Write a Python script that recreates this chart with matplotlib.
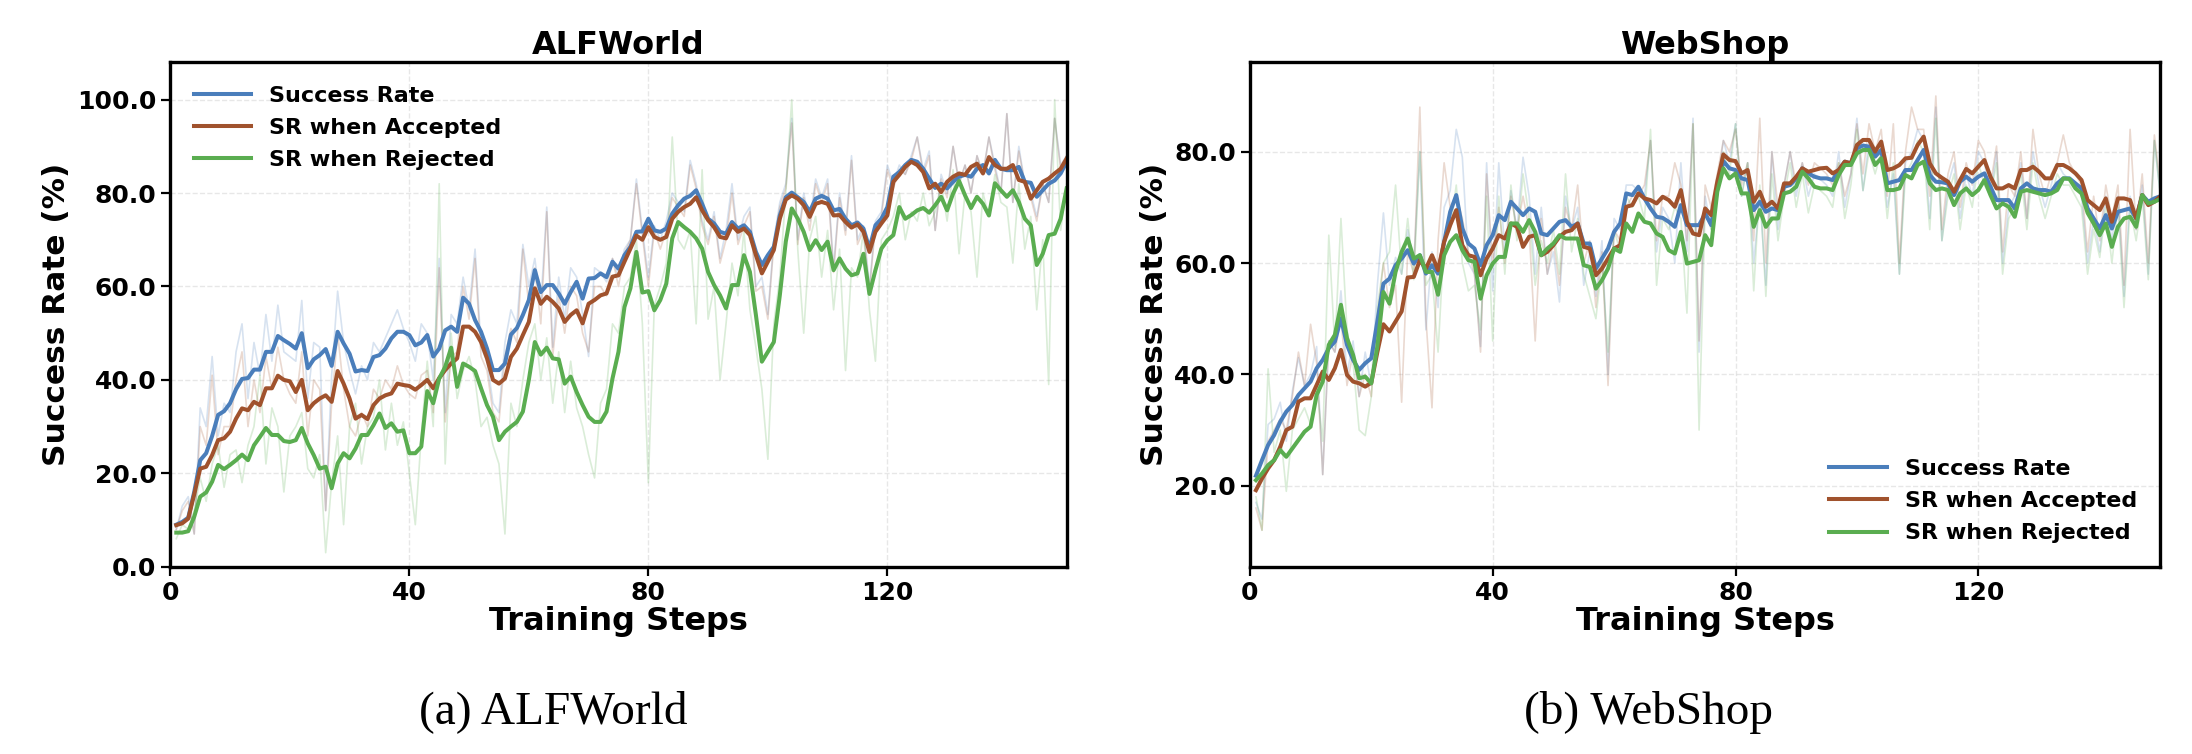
import matplotlib
matplotlib.use("Agg")
import matplotlib.pyplot as plt
import numpy as np
from matplotlib.ticker import FormatStrFormatter

# ---- ALFWorld: smoothed curves (thick lines) ----
alf_sr = [9.0, 9.6, 10.5, 16.0, 22.8, 24.3, 28.0, 32.5, 33.3, 35.0,
          38.0, 40.2, 40.4, 42.2, 42.2, 46.0, 46.0, 49.4, 48.5, 47.7,
          46.7, 50.0, 42.5, 44.4, 45.3, 46.6, 43.0, 50.3, 47.8, 45.6,
          41.8, 42.1, 41.9, 44.9, 45.3, 46.7, 48.9, 50.3, 50.3, 49.6,
          47.4, 48.0, 49.6, 45.0, 46.7, 50.6, 51.4, 50.3, 57.6, 56.3,
          52.8, 50.3, 46.7, 42.1, 42.1, 43.5, 49.7, 51.1, 53.9, 57.1,
          63.5, 58.8, 60.3, 60.3, 58.5, 56.3, 58.8, 61.0, 57.4, 61.7,
          61.8, 62.8, 62.0, 65.3, 63.8, 66.7, 68.5, 71.7, 71.8, 74.5,
          72.0, 71.7, 72.4, 75.6, 77.4, 78.8, 79.4, 80.6, 77.7, 74.5,
          73.5, 71.7, 71.3, 73.8, 72.4, 73.1, 71.7, 67.4, 64.6, 66.7,
          68.5, 75.2, 79.1, 80.1, 79.1, 78.1, 76.0, 78.8, 79.4, 78.8,
          76.3, 76.6, 74.5, 73.1, 73.7, 72.4, 68.1, 73.1, 74.5, 77.0,
          83.5, 84.5, 86.0, 87.1, 86.7, 85.2, 83.1, 81.1, 82.0, 81.0,
          82.4, 83.5, 83.9, 83.5, 85.2, 86.0, 84.2, 87.1, 85.2, 84.9,
          84.9, 85.6, 82.4, 82.2, 79.2, 80.6, 82.0, 82.7, 84.2, 86.7]
alf_acc = [8.9, 9.3, 10.3, 15.5, 21.0, 21.4, 23.9, 27.1, 27.5, 28.9,
           31.7, 33.9, 33.5, 35.3, 34.6, 38.2, 38.2, 40.9, 40.0, 39.7,
           37.4, 40.0, 33.5, 35.0, 36.0, 36.7, 35.3, 41.9, 39.2, 36.0,
           31.7, 32.5, 31.6, 34.6, 36.0, 36.7, 37.1, 39.2, 38.9, 38.7,
           37.9, 38.9, 40.0, 38.2, 40.4, 42.1, 43.5, 44.6, 51.4, 51.4,
           50.3, 48.1, 44.6, 40.0, 39.2, 40.3, 44.9, 46.7, 49.6, 52.4,
           59.6, 56.3, 57.8, 56.7, 55.3, 52.4, 53.9, 54.9, 52.1, 56.3,
           57.1, 58.1, 58.5, 62.1, 62.4, 65.3, 68.1, 70.9, 70.0, 72.7,
           70.6, 70.0, 70.6, 74.5, 76.0, 77.0, 77.7, 79.1, 76.3, 74.2,
           72.7, 70.6, 70.3, 73.1, 71.7, 72.4, 71.0, 66.7, 62.8, 65.3,
           67.8, 74.5, 78.6, 79.5, 78.8, 77.4, 74.9, 77.7, 78.1, 77.7,
           75.2, 75.3, 73.8, 72.6, 73.3, 71.7, 67.4, 71.7, 73.5, 75.2,
           82.4, 83.9, 85.6, 86.7, 86.0, 84.5, 81.0, 82.0, 80.2, 82.4,
           83.5, 84.2, 83.9, 85.6, 86.3, 84.2, 87.7, 86.0, 85.2, 85.2,
           86.0, 82.8, 82.4, 78.8, 80.6, 82.4, 83.1, 84.2, 85.2, 87.4]
alf_rej = [7.3, 7.3, 7.6, 10.7, 15.0, 15.9, 18.2, 21.8, 20.9, 21.8,
           22.8, 24.0, 22.8, 26.0, 27.8, 29.7, 28.2, 28.2, 26.9, 26.7,
           27.1, 29.7, 26.4, 23.9, 21.0, 21.4, 16.8, 22.1, 24.3, 23.2,
           25.3, 28.2, 28.2, 30.3, 32.8, 29.7, 30.7, 28.9, 29.2, 24.3,
           24.3, 25.7, 37.6, 35.0, 40.3, 42.8, 46.9, 38.5, 43.5, 42.8,
           41.9, 38.2, 34.6, 32.1, 27.1, 28.9, 30.0, 31.0, 33.2, 40.0,
           48.1, 45.4, 46.9, 44.6, 44.4, 39.2, 40.7, 37.4, 34.6, 32.1,
           31.0, 31.0, 33.2, 40.3, 46.0, 55.6, 59.6, 67.4, 58.7, 59.0,
           54.9, 57.1, 60.6, 70.3, 73.8, 72.7, 71.7, 70.3, 68.1, 63.1,
           60.3, 58.1, 55.3, 60.3, 60.3, 66.7, 63.1, 53.9, 43.9, 46.0,
           48.1, 58.1, 69.6, 76.7, 74.5, 71.7, 67.8, 69.9, 67.8, 69.6,
           63.5, 66.0, 63.8, 62.4, 62.8, 67.0, 58.4, 63.5, 68.1, 69.9,
           71.0, 77.0, 74.5, 75.3, 76.3, 76.8, 75.8, 77.4, 79.2, 76.3,
           79.9, 82.6, 79.5, 76.8, 79.2, 77.7, 75.2, 82.1, 80.6, 79.2,
           80.6, 78.1, 74.5, 73.1, 64.6, 67.0, 71.0, 71.3, 74.5, 81.0]

# ---- ALFWorld: raw per-step values (faint lines) ----
alf_sr_raw = [8, 13, 15, 7, 34, 30, 45, 28, 35, 33,
              46, 52, 36, 48, 41, 54, 44, 56, 46, 45,
              44, 57, 36, 48, 47, 12, 41, 59, 48, 42,
              37, 43, 40, 48, 46, 49, 52, 55, 51, 48,
              44, 52, 50, 40, 66, 33, 54, 52, 62, 55,
              68, 47, 44, 35, 33, 48, 55, 52, 69, 60,
              66, 56, 77, 47, 62, 53, 64, 62, 54, 45,
              64, 63, 61, 66, 62, 68, 70, 83, 72, 62,
              73, 70, 74, 80, 78, 76, 87, 82, 74, 70,
              76, 66, 72, 82, 70, 75, 77, 60, 62, 54,
              70, 78, 82, 96, 70, 80, 74, 83, 79, 83,
              64, 80, 72, 88, 70, 73, 60, 74, 76, 86,
              82, 86, 84, 88, 92, 85, 89, 72, 84, 80,
              90, 82, 86, 80, 88, 84, 92, 86, 80, 97,
              78, 90, 82, 80, 75, 82, 78, 96, 86, 88]
alf_acc_raw = [8, 12, 14, 7, 30, 26, 41, 24, 30, 30,
               40, 46, 30, 40, 33, 45, 38, 47, 40, 37,
               35, 46, 28, 40, 38, 12, 35, 50, 38, 30,
               28, 33, 30, 38, 36, 40, 38, 43, 39, 37,
               36, 41, 42, 33, 64, 31, 45, 46, 60, 53,
               66, 45, 42, 33, 31, 45, 51, 48, 68, 56,
               64, 52, 76, 45, 58, 50, 60, 58, 50, 46,
               60, 60, 58, 66, 60, 67, 70, 82, 71, 60,
               72, 68, 72, 79, 77, 75, 86, 81, 73, 69,
               75, 65, 70, 80, 69, 73, 76, 59, 60, 53,
               69, 77, 81, 95, 69, 79, 72, 82, 78, 82,
               63, 79, 71, 87, 69, 72, 59, 73, 75, 85,
               81, 85, 84, 87, 92, 84, 88, 72, 83, 79,
               90, 82, 86, 80, 88, 84, 92, 85, 80, 97,
               78, 89, 82, 79, 74, 82, 78, 96, 85, 88]
alf_rej_raw = [6, 9, 8, 12, 19, 14, 22, 26, 17, 24,
               25, 18, 26, 30, 41, 22, 34, 30, 16, 28,
               30, 33, 21, 19, 24, 3, 18, 28, 9, 30,
               35, 22, 30, 32, 40, 25, 35, 26, 31, 20,
               9, 28, 44, 30, 82, 22, 50, 36, 42, 45,
               40, 30, 32, 26, 22, 7, 35, 30, 40, 48,
               52, 40, 49, 35, 46, 33, 44, 34, 30, 24,
               19, 35, 38, 52, 50, 60, 62, 70, 52, 18,
               56, 60, 65, 92, 70, 68, 72, 52, 85, 53,
               60, 40, 52, 65, 58, 72, 55, 47, 38, 23,
               52, 62, 80, 100, 68, 50, 70, 75, 62, 72,
               55, 68, 42, 64, 62, 72, 55, 44, 70, 72,
               75, 80, 70, 76, 74, 80, 73, 76, 82, 74,
               85, 67, 80, 76, 62, 80, 75, 84, 78, 77,
               65, 82, 68, 75, 55, 70, 39, 100, 72, 82]

# ---- WebShop: smoothed curves ----
web_sr = [21.8, 24.6, 27.3, 29.1, 31.5, 33.3, 34.5, 36.3, 37.5, 38.7,
          41.1, 42.6, 44.7, 45.9, 50.1, 45.3, 42.6, 40.8, 42.0, 42.9,
          49.5, 56.3, 57.2, 59.6, 60.8, 62.3, 59.9, 61.4, 58.1, 59.6,
          58.1, 63.8, 69.2, 72.2, 66.2, 63.5, 62.6, 59.6, 63.2, 65.0,
          68.6, 67.7, 71.0, 69.8, 68.6, 69.8, 69.2, 65.3, 65.0, 66.2,
          67.4, 67.7, 66.5, 67.1, 63.5, 63.5, 59.0, 60.8, 62.6, 65.6,
          67.1, 72.5, 72.2, 73.7, 71.6, 69.8, 68.3, 68.1, 67.4, 66.5,
          70.4, 66.8, 66.8, 66.8, 68.9, 66.8, 73.4, 78.3, 77.0, 76.7,
          75.2, 74.9, 69.5, 71.0, 69.2, 69.8, 69.5, 73.7, 74.0, 75.2,
          77.0, 76.1, 75.5, 75.2, 75.2, 74.9, 76.7, 78.2, 77.9, 80.6,
          81.1, 80.9, 79.1, 80.3, 74.3, 74.6, 74.9, 76.7, 76.7, 78.5,
          80.3, 75.8, 74.6, 74.5, 74.3, 72.2, 74.6, 75.5, 74.6, 75.5,
          76.1, 73.7, 71.3, 71.3, 71.3, 69.8, 73.4, 74.3, 73.4, 73.1,
          73.1, 72.8, 74.3, 75.2, 75.2, 74.3, 73.4, 69.8, 68.0, 66.2,
          68.6, 66.2, 69.2, 69.5, 69.8, 68.0, 72.2, 71.0, 71.6, 72.0]
web_acc = [19.2, 21.3, 23.1, 24.6, 27.0, 30.0, 30.6, 35.1, 35.7, 35.7,
           38.1, 40.5, 39.0, 41.1, 44.4, 39.9, 38.7, 38.4, 37.8, 38.5,
           44.0, 49.0, 47.7, 49.5, 51.3, 57.4, 57.5, 60.5, 59.0, 61.4,
           58.7, 63.8, 66.8, 69.5, 63.2, 61.4, 61.1, 57.8, 60.8, 62.6,
           65.0, 64.4, 67.1, 66.5, 62.9, 64.7, 65.0, 61.4, 62.0, 63.2,
           64.7, 65.6, 65.9, 67.1, 62.9, 62.6, 57.8, 59.0, 60.8, 62.6,
           63.2, 70.1, 70.4, 72.5, 71.6, 71.3, 70.7, 71.9, 71.3, 70.1,
           73.1, 67.4, 65.3, 65.0, 69.8, 68.6, 74.6, 79.5, 78.5, 78.3,
           76.1, 76.7, 71.0, 72.8, 70.1, 71.0, 69.8, 74.3, 74.3, 75.5,
           77.0, 76.4, 76.7, 77.0, 77.1, 76.1, 76.7, 78.2, 77.9, 81.2,
           82.1, 82.1, 80.0, 81.8, 76.7, 77.0, 77.6, 78.8, 78.9, 81.2,
           82.7, 77.9, 76.1, 75.3, 74.6, 72.8, 74.9, 76.9, 76.1, 77.3,
           78.5, 75.5, 73.4, 73.4, 74.0, 73.4, 76.7, 76.7, 77.3, 76.4,
           75.2, 75.2, 77.6, 77.6, 77.0, 76.1, 74.9, 71.3, 70.4, 69.5,
           71.6, 67.4, 71.6, 71.6, 71.3, 68.0, 72.2, 70.4, 71.0, 72.0]
web_rej = [21.0, 22.2, 23.7, 24.6, 26.4, 25.2, 26.7, 28.2, 29.7, 30.6,
           36.3, 38.7, 45.3, 47.1, 52.5, 46.5, 43.5, 39.3, 39.6, 38.4,
           45.0, 54.8, 52.7, 58.4, 62.0, 64.4, 60.8, 61.4, 58.4, 58.4,
           54.3, 61.4, 63.8, 65.0, 62.3, 60.5, 60.2, 53.6, 57.8, 59.9,
           61.1, 61.1, 67.1, 67.1, 65.6, 67.7, 65.6, 61.4, 62.6, 63.5,
           65.0, 64.4, 64.4, 64.4, 59.6, 59.3, 55.4, 56.9, 59.0, 62.6,
           62.0, 67.1, 65.6, 68.9, 67.4, 67.1, 65.3, 64.7, 62.3, 61.7,
           65.6, 59.9, 60.2, 60.5, 65.0, 63.2, 72.8, 77.0, 75.2, 76.1,
           72.5, 72.5, 66.5, 69.5, 66.5, 68.0, 68.0, 72.5, 72.8, 73.7,
           76.4, 75.2, 73.7, 73.4, 73.4, 73.1, 75.8, 77.6, 77.6, 79.7,
           80.3, 80.3, 77.6, 78.8, 73.1, 73.1, 73.4, 75.8, 75.2, 77.6,
           78.2, 74.3, 73.1, 73.4, 73.1, 70.4, 72.5, 73.4, 72.2, 73.1,
           74.9, 72.2, 69.8, 70.7, 70.1, 68.3, 72.8, 73.1, 72.8, 72.5,
           72.2, 72.5, 73.1, 75.2, 75.1, 73.4, 72.5, 69.0, 67.1, 65.0,
           67.1, 62.9, 66.5, 68.0, 68.3, 66.5, 72.2, 70.7, 71.0, 71.5]

# ---- WebShop: raw per-step values ----
web_sr_raw = [17, 14, 31, 32, 35, 28, 37, 43, 38, 40,
              45, 22, 46, 44, 55, 40, 46, 36, 44, 38,
              56, 69, 56, 61, 58, 66, 60, 80, 48, 62,
              52, 70, 73, 84, 79, 60, 58, 45, 78, 55,
              78, 62, 73, 66, 79, 72, 58, 70, 58, 62,
              53, 72, 66, 70, 56, 62, 54, 64, 40, 68,
              66, 74, 74, 73, 72, 82, 62, 70, 68, 60,
              78, 62, 86, 44, 72, 66, 74, 82, 78, 85,
              72, 78, 60, 72, 56, 80, 66, 74, 80, 72,
              78, 72, 76, 75, 74, 72, 80, 70, 76, 86,
              73, 82, 80, 82, 70, 76, 58, 78, 80, 84,
              82, 68, 88, 64, 74, 78, 68, 76, 72, 80,
              78, 72, 80, 60, 70, 72, 78, 68, 80, 74,
              70, 74, 78, 76, 75, 74, 72, 60, 68, 62,
              72, 64, 72, 54, 72, 66, 74, 58, 82, 72]
web_acc_raw = [16, 12, 28, 30, 32, 30, 36, 44, 38, 49,
               42, 22, 46, 44, 50, 38, 44, 36, 40, 36,
               50, 60, 52, 56, 35, 62, 58, 88, 50, 34,
               64, 78, 70, 72, 68, 62, 58, 44, 76, 60,
               70, 60, 72, 66, 72, 66, 46, 68, 58, 64,
               56, 70, 66, 74, 60, 64, 52, 62, 38, 66,
               64, 70, 72, 72, 74, 82, 64, 72, 72, 78,
               74, 64, 85, 46, 74, 70, 76, 82, 80, 84,
               74, 78, 64, 86, 60, 80, 70, 74, 80, 74,
               78, 74, 78, 77, 76, 74, 78, 72, 76, 85,
               76, 85, 80, 84, 72, 85, 60, 80, 88, 84,
               84, 72, 90, 66, 76, 80, 70, 78, 74, 82,
               80, 74, 81, 62, 74, 72, 80, 68, 84, 76,
               72, 76, 78, 83, 78, 76, 74, 62, 72, 64,
               74, 68, 74, 56, 84, 66, 76, 60, 83, 74]
web_rej_raw = [18, 12, 41, 26, 30, 19, 30, 32, 34, 31,
               38, 28, 65, 45, 68, 48, 42, 30, 29, 36,
               52, 60, 62, 74, 58, 68, 57, 80, 56, 58,
               44, 64, 66, 74, 60, 55, 56, 48, 72, 46,
               72, 58, 74, 64, 76, 68, 56, 64, 60, 66,
               58, 76, 62, 68, 58, 54, 50, 60, 44, 66,
               62, 72, 70, 72, 68, 84, 56, 68, 66, 70,
               68, 51, 85, 30, 70, 66, 74, 80, 76, 85,
               72, 78, 55, 74, 54, 76, 64, 72, 78, 70,
               76, 69, 74, 73, 72, 70, 78, 68, 74, 84,
               73, 80, 76, 80, 68, 78, 58, 76, 78, 82,
               80, 66, 86, 64, 72, 76, 66, 74, 70, 78,
               74, 72, 78, 58, 68, 70, 76, 66, 78, 72,
               68, 72, 76, 74, 74, 72, 70, 58, 66, 61,
               70, 60, 70, 52, 70, 64, 72, 57, 82, 72]

labels = ["Success Rate", "SR when Accepted", "SR when Rejected"]
colors = ["#4a7ebb", "#a0522d", "#5aad50"]
x_ticks = [0, 40, 80, 120]

plt.rcParams['font.family'] = ['DejaVu Sans']
plt.rcParams['font.weight'] = 'bold'
plt.rcParams['axes.labelweight'] = 'bold'
plt.rcParams['axes.titleweight'] = 'bold'


def draw_panel(ax, title, raws, smooths, ylim, yticks, legend_loc):
    for raw, color in zip(raws, colors):
        steps = np.arange(1, len(raw) + 1)
        ax.plot(steps, raw, color=color, alpha=0.22, linewidth=1.2)
    for sm, color, label in zip(smooths, colors, labels):
        steps = np.arange(1, len(sm) + 1)
        ax.plot(steps, sm, color=color, linewidth=2.9, label=label)

    ax.set_xlim(0, 150)
    ax.set_ylim(*ylim)
    ax.set_xticks(x_ticks)
    ax.set_yticks(yticks)
    ax.yaxis.set_major_formatter(FormatStrFormatter('%.1f'))
    ax.tick_params(axis='both', labelsize=18, length=6.5, width=1.6)
    ax.grid(True, linestyle='--', linewidth=1.0, color='#d8d8d8', alpha=0.6)
    for spine in ax.spines.values():
        spine.set_linewidth(2.4)

    ax.set_title(title, fontsize=23, pad=6)
    ax.set_xlabel("Training Steps", fontsize=23, labelpad=1)
    ax.set_ylabel("Success Rate (%)", fontsize=22.5)
    ax.legend(loc=legend_loc, frameon=False, prop={'weight': 'bold', 'size': 16},
              handlelength=2.6, handletextpad=0.8, labelspacing=0.55,
              borderpad=0.55)


fig = plt.figure(figsize=(21.92, 7.54), dpi=100)
ax1 = fig.add_axes([0.0777, 0.2484, 0.4089, 0.669])
ax2 = fig.add_axes([0.5702, 0.2484, 0.4154, 0.669])

draw_panel(ax1, "ALFWorld", [alf_sr_raw, alf_acc_raw, alf_rej_raw],
           [alf_sr, alf_acc, alf_rej], (0, 108), [0, 20, 40, 60, 80, 100], 'upper left')
draw_panel(ax2, "WebShop", [web_sr_raw, web_acc_raw, web_rej_raw],
           [web_sr, web_acc, web_rej], (5.46, 96.05), [20, 40, 60, 80], 'lower right')

# subfigure captions
fig.text(553 / 2192, 1 - 712 / 754, "(a) ALFWorld", ha='center', va='center',
         fontsize=34, fontweight='normal', family='Liberation Serif')
fig.text(1649 / 2192, 1 - 712 / 754, "(b) WebShop", ha='center', va='center',
         fontsize=34, fontweight='normal', family='Liberation Serif')

fig.savefig("out.png", dpi=100)
